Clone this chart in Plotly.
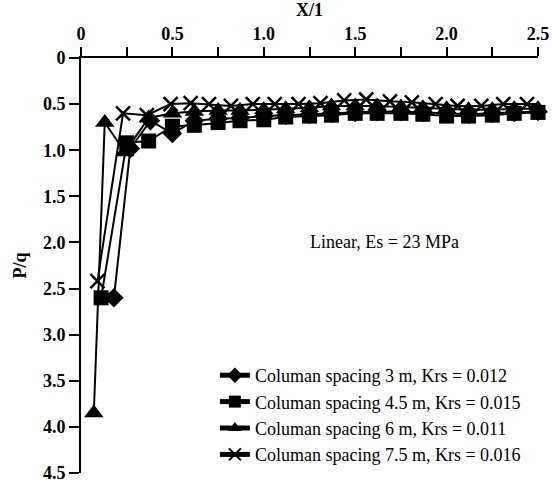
import plotly.graph_objects as go

# Data
x_3m = [0.18, 0.27, 0.38, 0.50, 0.62, 0.75, 0.87, 1.00, 1.12, 1.25, 1.37, 1.50, 1.62, 1.75, 1.87, 2.00, 2.12, 2.25, 2.37, 2.50]
y_3m = [2.60, 0.98, 0.68, 0.82, 0.68, 0.66, 0.65, 0.63, 0.62, 0.61, 0.60, 0.59, 0.58, 0.58, 0.59, 0.60, 0.61, 0.60, 0.59, 0.58]

x_45m = [0.11, 0.25, 0.37, 0.50, 0.62, 0.75, 0.87, 1.00, 1.12, 1.25, 1.37, 1.50, 1.62, 1.75, 1.87, 2.00, 2.12, 2.25, 2.37, 2.50]
y_45m = [2.60, 0.92, 0.90, 0.74, 0.73, 0.70, 0.68, 0.67, 0.64, 0.63, 0.62, 0.60, 0.60, 0.60, 0.61, 0.63, 0.63, 0.62, 0.60, 0.59]

x_6m = [0.07, 0.13, 0.24, 0.37, 0.50, 0.62, 0.75, 0.87, 1.00, 1.12, 1.25, 1.37, 1.50, 1.62, 1.75, 1.87, 2.00, 2.12, 2.25, 2.37, 2.50]
y_6m = [3.85, 0.70, 1.02, 0.65, 0.60, 0.58, 0.57, 0.57, 0.56, 0.55, 0.54, 0.52, 0.52, 0.52, 0.53, 0.54, 0.55, 0.56, 0.56, 0.55, 0.55]

x_75m = [0.09, 0.23, 0.36, 0.49, 0.60, 0.70, 0.82, 0.94, 1.06, 1.19, 1.31, 1.44, 1.56, 1.69, 1.81, 1.94, 2.06, 2.19, 2.31, 2.44, 2.52]
y_75m = [2.42, 0.60, 0.62, 0.50, 0.49, 0.50, 0.52, 0.50, 0.50, 0.50, 0.49, 0.46, 0.45, 0.47, 0.48, 0.50, 0.52, 0.52, 0.50, 0.50, 0.50]

names = [
    "Columan spacing 3 m, Krs = 0.012",
    "Columan spacing 4.5 m, Krs = 0.015",
    "Columan spacing 6 m, Krs = 0.011",
    "Columan spacing 7.5 m, Krs = 0.016",
]

x_tickvals = [0, 0.5, 1.0, 1.5, 2.0, 2.5]
x_ticktext = ["0", "0.5", "1.0", "1.5", "2.0", "2.5"]
y_tickvals = [0, 0.5, 1.0, 1.5, 2.0, 2.5, 3.0, 3.5, 4.0, 4.5]
y_ticktext = ["0", "0.5", "1.0", "1.5", "2.0", "2.5", "3.0", "3.5", "4.0", "4.5"]

FONT = 'Times New Roman, Times, Liberation Serif, Tinos, DejaVu Serif, Noto Serif, FreeSerif, serif'

fig = go.Figure()
series = [
    (x_3m, y_3m, names[0], dict(symbol="diamond", size=15, color="black")),
    (x_45m, y_45m, names[1], dict(symbol="square", size=15, color="black")),
    (x_6m, y_6m, names[2], dict(symbol="triangle-up", size=17, color="black")),
    (x_75m, y_75m, names[3], dict(symbol="x-thin", size=14, color="black",
                                  line=dict(width=2.5, color="black"))),
]
for xs, ys, nm, mk in series:
    fig.add_trace(go.Scatter(
        x=xs, y=ys, name=nm, mode="lines+markers",
        line=dict(color="black", width=2),
        marker=mk, cliponaxis=False,
    ))

fig.add_annotation(
    x=1.66, y=2.0, xref="x", yref="y", text="Linear, Es = 23 MPa",
    showarrow=False, font=dict(family=FONT, size=18, color="black"),
)

fig.update_layout(
    width=552, height=484,
    margin=dict(l=81, r=14, t=58, b=11, autoexpand=False),
    paper_bgcolor="white", plot_bgcolor="white",
    font=dict(family=FONT, color="black"),
    showlegend=True,
    legend=dict(
        x=0.293, y=0.0, xanchor="left", yanchor="bottom",
        font=dict(family=FONT, size=18, color="black"),
        bgcolor="rgba(0,0,0,0)", itemsizing="constant",
        tracegroupgap=0,
    ),
    xaxis=dict(
        side="top", range=[0, 2.5], automargin=False,
        tickvals=x_tickvals, ticktext=x_ticktext,
        ticks="outside", ticklen=9, tickwidth=2, tickcolor="black",
        minor=dict(dtick=0.25, tick0=0, ticks="outside", ticklen=9, tickwidth=2, tickcolor="black"),
        showline=True, linewidth=2, linecolor="black",
        showgrid=False, zeroline=False, ticklabeloverflow="allow",
        tickfont=dict(family=FONT, size=18, weight="bold", color="black"),
        title=dict(text="X/1", font=dict(family=FONT, size=18, weight="bold", color="black"), standoff=6),
    ),
    yaxis=dict(
        range=[4.5, 0], automargin=False,
        tickvals=y_tickvals, ticktext=y_ticktext,
        ticks="outside", ticklen=10, tickwidth=2, tickcolor="black",
        showline=True, linewidth=2, linecolor="black",
        showgrid=False, zeroline=False, ticklabeloverflow="allow",
        tickfont=dict(family=FONT, size=18, weight="bold", color="black"),
        title=dict(text="P/q", font=dict(family=FONT, size=18, weight="bold", color="black"), standoff=12),
    ),
)

fig.write_html("out.html")
